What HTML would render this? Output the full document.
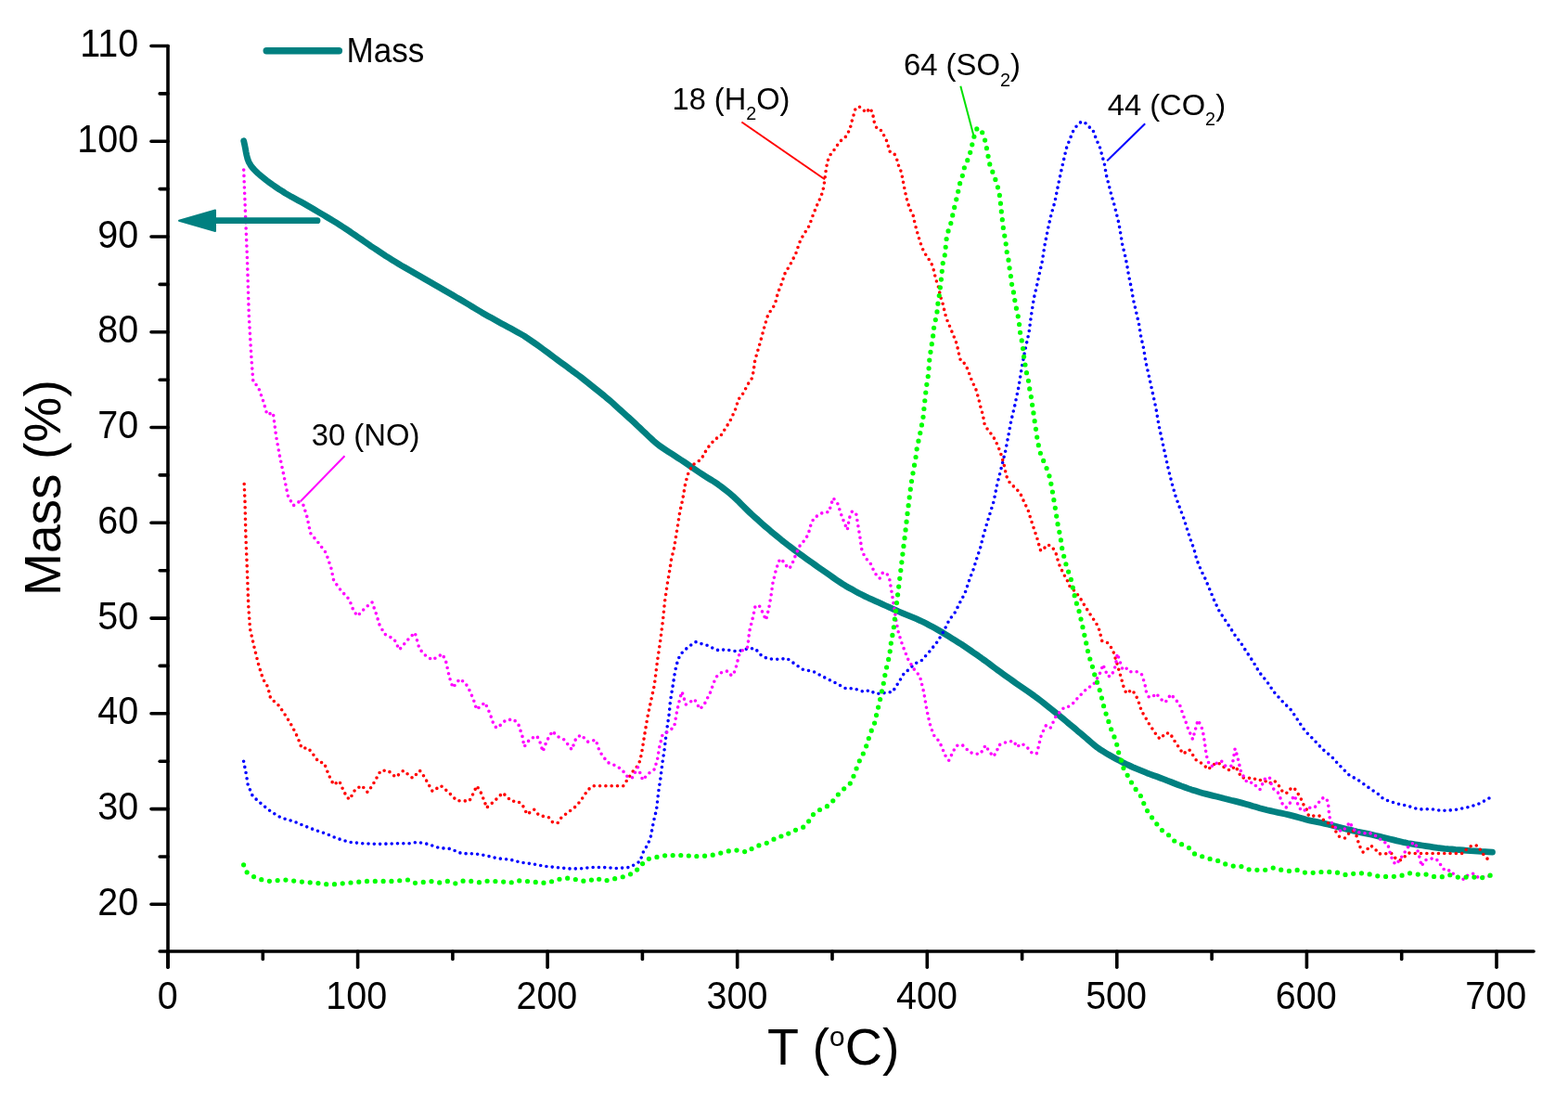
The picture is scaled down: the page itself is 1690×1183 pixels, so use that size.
<!DOCTYPE html>
<html><head><meta charset="utf-8"><style>
html,body{margin:0;padding:0;background:#fff;}
svg{display:block;font-family:"Liberation Sans",Arial,sans-serif;}
</style></head><body>
<svg width="1690" height="1183" viewBox="0 0 1690 1183">
<rect width="1690" height="1183" fill="#fff"/>
<polyline points="262.7,151.8 263.7,156.3 264.4,159.7 265.1,163.6 265.9,167.5 266.9,171.3 268.3,174.9 270.3,178.3 272.7,181.4 275.4,184.3 278.3,187.0 281.4,189.6 284.5,192.1 287.6,194.6 290.8,197.0 294.0,199.3 297.4,201.6 300.7,203.8 304.1,205.9 307.4,208.1 310.9,210.1 314.3,212.1 317.9,214.0 321.4,215.9 324.9,217.8 328.4,219.8 331.8,221.8 335.3,223.8 338.7,225.8 342.2,227.9 345.6,229.9 349.1,231.9 352.5,234.0 355.9,236.0 359.4,238.1 362.8,240.2 366.2,242.3 369.5,244.5 372.8,246.7 376.2,248.9 379.5,251.2 382.8,253.4 386.1,255.7 389.4,257.9 392.7,260.2 396.0,262.5 399.2,264.8 402.6,267.0 405.9,269.2 409.2,271.4 412.6,273.6 415.9,275.8 419.3,277.9 422.7,280.1 426.1,282.2 429.5,284.2 433.0,286.3 436.4,288.3 439.9,290.3 443.4,292.2 446.8,294.2 450.3,296.2 453.8,298.2 457.2,300.2 460.7,302.2 464.2,304.2 467.6,306.2 471.1,308.2 474.6,310.2 478.0,312.2 481.5,314.2 485.0,316.2 488.4,318.2 491.9,320.3 495.3,322.3 498.7,324.3 502.2,326.4 505.6,328.4 509.0,330.5 512.5,332.6 515.9,334.6 519.3,336.7 522.8,338.7 526.3,340.7 529.8,342.6 533.3,344.5 536.8,346.5 540.3,348.4 543.8,350.3 547.3,352.2 550.8,354.1 554.3,356.0 557.8,357.9 561.3,359.9 564.8,361.9 568.1,364.1 571.4,366.3 574.7,368.6 578.0,370.9 581.3,373.2 584.5,375.6 587.7,377.9 590.9,380.3 594.1,382.7 597.3,385.1 600.5,387.5 603.8,389.9 607.0,392.3 610.2,394.6 613.4,397.0 616.6,399.4 619.9,401.7 623.1,404.1 626.3,406.5 629.4,409.0 632.6,411.5 635.7,414.0 638.8,416.5 641.9,419.0 645.1,421.5 648.2,424.0 651.3,426.5 654.3,429.1 657.4,431.7 660.4,434.3 663.3,437.0 666.3,439.7 669.3,442.4 672.2,445.0 675.2,447.7 678.2,450.4 681.1,453.1 684.1,455.8 687.0,458.6 689.9,461.3 692.8,464.1 695.7,466.8 698.6,469.6 701.5,472.3 704.4,475.0 707.5,477.6 710.6,480.1 713.9,482.4 717.2,484.6 720.6,486.8 723.9,488.9 727.3,491.1 730.6,493.3 734.0,495.5 737.3,497.7 740.6,499.9 743.9,502.2 747.2,504.5 750.5,506.8 753.8,509.0 757.1,511.2 760.5,513.4 763.9,515.5 767.3,517.5 770.7,519.7 774.0,521.9 777.2,524.2 780.4,526.7 783.5,529.2 786.6,531.7 789.7,534.3 792.6,537.0 795.5,539.7 798.3,542.6 801.1,545.4 804.0,548.2 806.8,551.0 809.7,553.8 812.7,556.5 815.7,559.1 818.6,561.8 821.6,564.5 824.6,567.1 827.7,569.7 830.7,572.3 833.8,574.8 836.9,577.4 840.0,579.9 843.1,582.5 846.2,584.9 849.4,587.4 852.6,589.8 855.8,592.2 859.0,594.6 862.2,597.0 865.4,599.3 868.7,601.7 871.9,604.0 875.2,606.3 878.5,608.6 881.7,610.9 885.0,613.2 888.3,615.5 891.6,617.8 894.8,620.1 898.1,622.4 901.4,624.7 904.7,626.9 908.0,629.1 911.4,631.2 914.9,633.2 918.4,635.1 921.9,637.1 925.4,639.0 929.0,640.8 932.6,642.6 936.2,644.3 939.8,645.9 943.5,647.6 947.1,649.2 950.8,650.9 954.4,652.5 958.1,654.1 961.7,655.8 965.4,657.4 969.0,659.0 972.7,660.6 976.4,662.2 980.1,663.7 983.8,665.2 987.5,666.7 991.1,668.3 994.8,670.0 998.3,671.8 1001.8,673.7 1005.4,675.6 1008.9,677.5 1012.3,679.5 1015.8,681.5 1019.2,683.6 1022.6,685.7 1026.0,687.8 1029.4,689.9 1032.8,692.1 1036.2,694.2 1039.5,696.4 1042.8,698.6 1046.1,700.9 1049.4,703.2 1052.7,705.4 1056.0,707.7 1059.2,710.1 1062.5,712.4 1065.7,714.8 1068.9,717.2 1072.1,719.6 1075.3,722.0 1078.5,724.3 1081.8,726.7 1085.0,729.0 1088.3,731.3 1091.6,733.6 1094.8,735.9 1098.1,738.2 1101.4,740.5 1104.7,742.8 1108.0,745.0 1111.2,747.3 1114.5,749.6 1117.7,752.0 1120.9,754.4 1124.1,756.9 1127.2,759.4 1130.3,761.9 1133.5,764.4 1136.6,766.9 1139.7,769.4 1142.8,771.9 1145.9,774.4 1149.0,777.0 1152.0,779.6 1155.1,782.1 1158.2,784.7 1161.2,787.3 1164.3,789.8 1167.3,792.4 1170.4,795.0 1173.4,797.6 1176.4,800.2 1179.5,802.8 1182.6,805.3 1185.9,807.6 1189.2,809.7 1192.7,811.8 1196.1,813.8 1199.6,815.8 1203.1,817.7 1206.7,819.6 1210.2,821.4 1213.8,823.2 1217.4,824.9 1221.0,826.6 1224.7,828.2 1228.4,829.7 1232.1,831.2 1235.8,832.7 1239.5,834.1 1243.3,835.5 1247.1,836.8 1250.8,838.2 1254.6,839.6 1258.3,841.1 1262.0,842.5 1265.7,844.0 1269.5,845.5 1273.2,846.9 1277.0,848.2 1280.7,849.6 1284.5,850.9 1288.3,852.1 1292.1,853.3 1296.0,854.4 1299.8,855.4 1303.7,856.4 1307.6,857.4 1311.5,858.3 1315.4,859.3 1319.2,860.3 1323.1,861.2 1327.0,862.2 1330.9,863.1 1334.8,864.1 1338.6,865.1 1342.5,866.2 1346.3,867.3 1350.1,868.5 1354.0,869.6 1357.8,870.7 1361.7,871.7 1365.6,872.7 1369.5,873.6 1373.4,874.5 1377.3,875.4 1381.2,876.2 1385.1,877.0 1389.0,877.9 1392.9,878.9 1396.7,879.9 1400.6,881.0 1404.4,882.1 1408.3,883.2 1412.2,884.1 1416.1,884.9 1420.0,885.7 1423.9,886.5 1427.8,887.4 1431.7,888.3 1435.6,889.3 1439.5,890.3 1443.3,891.2 1447.2,892.2 1451.1,893.2 1455.0,894.1 1458.9,895.1 1462.8,896.0 1466.7,896.8 1470.6,897.6 1474.5,898.4 1478.4,899.3 1482.3,900.2 1486.2,901.1 1490.1,902.1 1494.0,903.0 1497.9,904.0 1501.7,904.9 1505.6,905.9 1509.5,906.8 1513.4,907.7 1517.3,908.5 1521.3,909.2 1525.2,909.8 1529.2,910.4 1533.1,911.0 1537.1,911.6 1541.0,912.2 1545.0,912.8 1549.0,913.4 1552.9,913.8 1556.9,914.3 1560.9,914.7 1564.9,915.0 1568.8,915.4 1572.8,915.7 1576.8,916.0 1580.8,916.3 1584.8,916.6 1588.8,916.8 1592.8,917.1 1596.8,917.4 1600.6,917.6 1604.1,917.8 1608.5,918.1" fill="none" stroke="#008080" stroke-width="6.8" stroke-linecap="round" stroke-linejoin="round"/>
<polyline points="262.6,820.2 265.2,833.3 267.2,845.5 272.3,857.7 282.5,866.8 292.6,874.9 302.8,881.0 317.0,885.1 329.1,890.2 339.3,894.2 351.5,898.3 363.6,903.4 376.8,907.4 392.0,908.8 408.3,909.4 426.5,908.8 440.7,908.8 449.9,907.4 461.0,909.4 473.2,913.5 485.4,914.5 497.6,919.6 511.1,919.7 523.8,921.8 536.5,924.9 549.2,926.0 561.8,929.2 574.5,930.9 587.2,933.4 599.9,934.5 612.5,935.9 625.2,935.9 637.9,934.5 650.6,934.5 665.4,935.5 678.0,934.5 684.4,931.3 689.7,928.1 693.9,916.5 698.1,910.2 701.3,901.7 704.5,884.8 707.6,872.1 709.7,853.1 711.8,839.4 714.0,821.4 716.1,807.7 718.2,789.7 721.3,768.6 722.4,755.9 725.6,736.2 727.6,723.0 730.7,710.8 733.7,704.7 738.8,699.7 743.9,695.6 749.9,691.6 756.0,693.6 763.1,695.6 769.2,698.7 775.3,701.1 781.4,699.7 787.4,700.7 793.5,701.7 799.6,700.7 806.6,698.7 813.9,698.7 821.3,707.1 828.7,709.9 841.4,710.3 847.8,709.2 854.1,713.5 864.7,721.1 877.3,723.8 887.9,729.5 900.6,735.8 912.2,742.2 919.6,741.6 931.2,745.4 937.5,743.7 942.8,747.0 950.2,747.5 955.5,745.8 961.8,745.8 968.2,735.8 974.5,725.3 980.9,720.4 985.1,715.6 993.5,711.4 1002.0,701.8 1010.4,691.3 1016.8,680.7 1023.1,668.0 1029.5,659.6 1034.7,649.0 1040.0,639.2 1045.8,621.7 1048.7,614.9 1052.6,602.2 1056.5,590.6 1059.4,578.9 1063.3,565.3 1067.2,552.6 1071.1,540.0 1074.5,522.8 1079.6,502.6 1083.6,486.3 1086.7,470.1 1089.7,453.9 1093.8,436.6 1097.8,417.4 1100.9,398.1 1104.9,376.8 1109.0,358.5 1111.5,339.4 1114.4,321.0 1117.4,308.3 1120.3,294.7 1123.2,282.1 1126.1,263.6 1130.0,244.2 1132.9,231.5 1136.8,217.9 1140.7,198.5 1143.6,184.9 1146.5,172.2 1149.4,159.6 1152.4,151.8 1156.2,142.1 1160.1,136.2 1165.0,131.4 1168.9,131.4 1172.8,136.2 1177.6,139.2 1181.5,149.9 1185.4,158.6 1188.3,169.3 1190.3,176.1 1192.2,187.8 1195.1,199.4 1198.1,211.1 1201.0,220.8 1203.9,232.5 1205.8,240.3 1207.8,251.9 1209.7,263.6 1212.6,275.3 1214.6,285.0 1216.5,296.7 1219.4,310.3 1221.5,323.0 1224.6,336.2 1227.6,349.4 1229.7,362.6 1232.7,375.8 1234.7,389.0 1238.8,407.2 1242.8,425.5 1245.9,439.7 1248.9,457.9 1252.0,472.1 1256.0,490.4 1259.1,504.6 1263.1,520.8 1267.2,535.0 1271.4,546.8 1276.2,559.4 1280.1,572.1 1284.0,583.7 1286.9,591.5 1289.9,603.2 1294.7,614.9 1298.6,622.6 1303.5,634.3 1308.3,646.0 1314.2,658.6 1320.0,667.4 1327.4,678.6 1332.1,686.0 1336.7,691.6 1343.2,701.8 1350.7,713.0 1357.2,724.2 1365.6,734.4 1373.0,745.5 1382.3,755.8 1391.6,765.1 1399.0,776.2 1406.5,787.4 1415.8,796.7 1425.1,806.9 1435.3,815.3 1443.7,824.6 1453.9,834.8 1465.1,841.3 1476.2,849.3 1486.4,856.2 1491.1,860.9 1504.1,865.5 1517.1,868.3 1529.2,872.0 1541.3,871.6 1554.3,873.5 1567.4,872.6 1580.4,870.2 1592.4,866.8 1603.6,860.9 1607.0,858.6" fill="none" stroke="#0000ff" stroke-width="3.6" stroke-linecap="round" stroke-linejoin="round" stroke-dasharray="0 6.3"/>
<polyline points="263.2,521.5 264.0,540.0 264.9,577.2 266.4,614.4 267.7,651.6 269.5,677.6 274.2,698.1 278.8,716.7 283.5,731.6 288.6,740.0 291.6,752.2 300.7,760.3 308.8,772.5 314.9,782.6 321.0,794.8 325.1,806.0 332.2,806.0 339.3,815.1 343.3,820.8 349.4,822.2 354.5,835.4 359.6,845.5 365.7,841.5 369.7,850.6 373.8,858.7 376.8,861.3 382.9,850.6 390.0,846.5 396.1,853.6 401.2,846.5 410.3,830.3 418.4,830.3 426.5,837.4 434.7,830.3 444.8,838.4 452.5,830.3 457.0,836.4 466.1,852.6 475.2,846.5 483.4,853.6 492.5,862.8 500.0,862.8 505.8,863.2 511.1,853.1 513.7,846.8 517.5,852.0 522.7,864.7 524.2,870.4 532.3,863.7 541.8,854.2 551.3,863.2 557.6,863.2 562.9,866.8 568.2,877.4 575.6,872.1 580.9,878.5 591.4,880.6 595.6,885.9 600.9,886.9 605.2,880.6 613.6,874.2 618.9,870.4 625.2,863.7 633.7,851.0 639.0,846.8 648.5,846.8 665.4,846.8 671.7,846.8 675.9,840.4 682.3,830.9 688.6,823.5 691.5,812.0 695.0,790.0 698.0,772.0 701.0,758.0 705.3,738.2 708.4,712.9 711.4,692.6 714.5,668.3 716.5,648.0 719.5,627.7 721.6,615.5 723.6,602.4 726.6,590.2 728.7,577.0 730.7,564.9 732.7,551.7 735.7,538.5 738.8,520.3 741.8,510.1 746.3,501.1 755.8,494.8 762.2,483.2 770.8,473.0 776.4,470.2 782.7,460.2 787.1,453.1 792.4,441.6 796.0,430.1 800.4,424.7 806.6,413.2 810.2,407.9 812.0,400.8 813.7,388.3 815.5,382.1 819.1,369.7 820.8,363.5 824.4,350.2 827.9,338.6 832.4,332.4 835.4,327.5 838.3,315.8 842.2,306.1 846.1,294.4 851.9,284.7 857.8,273.1 861.7,261.4 865.6,253.6 869.4,247.8 872.4,242.9 875.3,234.2 879.2,224.4 882.1,217.6 885.0,211.8 887.9,201.1 888.9,193.3 889.9,185.6 891.8,173.9 894.7,167.1 898.6,162.2 902.5,156.4 906.4,151.5 912.2,146.7 916.1,138.9 918.0,131.1 921.9,117.5 925.8,114.6 930.7,118.5 933.6,121.4 937.5,116.5 940.4,121.4 942.4,132.1 945.3,138.9 950.1,140.8 953.1,146.7 956.0,152.5 958.9,163.2 963.7,165.1 966.7,171.9 968.6,178.7 971.5,185.6 973.5,196.2 975.4,206.0 977.4,214.7 980.3,224.4 984.2,232.2 986.1,241.0 989.0,251.7 991.9,261.4 994.9,269.2 998.7,276.0 1003.6,282.8 1006.5,291.5 1008.5,300.3 1011.4,309.0 1013.3,317.8 1015.2,325.0 1016.1,327.1 1018.8,338.6 1021.4,346.6 1024.1,352.8 1028.5,363.5 1031.2,370.6 1033.9,383.0 1035.6,389.2 1040.1,391.9 1043.0,398.1 1047.1,409.2 1052.2,420.4 1054.2,427.5 1057.2,439.7 1059.3,446.8 1061.3,457.9 1065.4,464.0 1070.4,470.1 1075.5,480.2 1079.6,491.4 1082.6,502.6 1084.6,512.7 1088.7,520.8 1094.8,525.9 1099.8,532.0 1103.9,541.1 1108.1,549.7 1111.0,559.4 1113.9,568.2 1117.8,579.9 1119.7,586.7 1121.7,593.5 1124.6,591.5 1129.4,586.7 1134.3,589.6 1138.2,596.4 1141.1,607.1 1146.0,617.8 1149.9,624.6 1152.8,631.4 1158.6,637.2 1163.5,643.1 1167.4,649.9 1174.2,660.6 1178.1,666.4 1181.9,672.2 1184.9,679.0 1187.8,690.7 1193.6,692.6 1197.5,697.5 1200.4,703.3 1202.4,710.1 1204.3,716.0 1206.2,722.8 1208.2,729.6 1211.1,740.3 1214.0,747.1 1219.9,743.2 1223.7,748.1 1226.7,754.6 1228.8,761.2 1230.6,766.7 1234.3,772.3 1237.1,777.9 1240.9,783.5 1244.6,789.1 1248.3,794.6 1251.1,796.1 1255.7,790.0 1261.3,790.0 1264.1,795.6 1267.8,801.1 1271.5,806.7 1275.3,812.3 1279.0,809.5 1281.8,807.7 1285.5,813.2 1289.2,818.8 1293.9,821.6 1298.5,825.3 1302.2,829.0 1305.9,825.3 1311.5,821.6 1316.2,823.5 1320.8,828.1 1326.5,830.2 1331.2,825.5 1334.9,831.1 1337.7,837.6 1343.2,838.5 1350.7,838.2 1355.5,840.9 1361.7,840.0 1367.9,844.4 1373.3,840.9 1375.9,843.6 1379.5,848.0 1383.0,854.2 1388.3,854.2 1391.9,848.5 1395.4,849.8 1399.0,855.1 1402.5,861.3 1405.2,867.5 1408.8,872.8 1410.5,879.1 1416.7,879.1 1423.0,879.1 1426.5,883.5 1431.8,887.0 1436.3,890.6 1439.8,895.9 1443.4,901.2 1449.6,903.0 1453.1,898.6 1458.5,895.0 1462.0,900.4 1463.8,906.6 1465.6,911.9 1469.1,918.1 1472.7,916.3 1477.1,911.0 1481.5,913.7 1486.0,919.9 1493.1,919.9 1499.3,919.0 1503.7,924.3 1508.9,927.0 1513.5,923.4 1517.9,919.0 1524.2,919.5 1531.3,919.5 1537.5,919.5 1544.6,919.5 1550.8,919.5 1557.9,919.5 1564.1,919.5 1570.3,919.5 1576.5,919.5 1581.0,914.6 1586.3,911.0 1592.5,911.0 1596.0,916.3 1599.6,921.7 1604.9,927.0" fill="none" stroke="#ff0000" stroke-width="3.6" stroke-linecap="round" stroke-linejoin="round" stroke-dasharray="0 6.3"/>
<polyline points="262.7,183.1 264.5,230.0 266.5,280.0 268.3,340.0 269.4,359.2 271.0,386.4 272.9,411.6 278.2,416.5 284.0,433.0 287.9,446.6 294.3,444.7 297.6,470.0 301.5,491.4 306.4,514.7 310.3,534.1 316.1,544.8 321.9,540.9 326.8,543.8 330.9,556.7 334.6,574.4 343.0,584.6 351.4,595.8 357.0,612.5 359.7,625.6 367.2,635.8 376.5,646.0 381.1,658.1 385.4,663.7 393.2,655.3 401.0,648.8 405.3,660.9 409.0,673.0 414.6,683.2 424.9,688.8 430.4,700.0 441.6,687.0 447.2,681.7 451.8,698.1 456.5,704.6 465.8,711.1 476.9,704.6 480.7,713.0 484.4,729.7 488.1,740.9 495.5,731.6 501.6,735.8 506.9,745.4 511.1,755.9 513.7,764.4 517.5,761.2 522.7,757.0 528.0,768.6 532.3,781.3 535.4,784.4 540.7,780.2 544.9,776.0 553.4,774.9 558.7,780.2 562.9,792.9 565.0,804.5 571.3,796.1 578.7,792.9 581.9,799.2 585.1,809.8 589.3,798.2 595.6,787.6 599.9,792.9 608.3,797.1 616.3,807.7 621.0,795.0 626.3,791.8 633.7,799.2 642.1,797.1 646.3,809.8 654.8,821.4 665.4,825.6 671.7,830.9 674.9,835.8 681.2,838.3 687.5,826.7 692.8,840.4 698.1,834.1 705.5,828.8 708.7,817.2 710.8,804.5 714.0,791.8 719.2,788.7 726.6,783.4 729.8,765.4 733.0,751.7 735.1,745.4 739.3,759.1 748.5,753.4 754.4,764.0 759.0,759.1 765.4,746.4 769.6,734.8 772.2,729.1 778.3,724.0 784.4,723.0 788.5,728.1 791.5,724.0 793.5,717.9 796.6,705.8 800.2,700.8 805.5,697.6 806.6,690.2 807.6,680.7 809.7,672.3 811.8,663.8 814.0,653.3 818.2,652.2 821.3,658.5 825.6,668.0 828.7,655.4 830.9,642.7 833.0,627.9 836.1,615.2 839.3,604.7 842.5,602.1 845.6,607.8 850.9,612.7 854.1,606.8 858.3,596.2 861.5,588.8 866.8,582.5 871.0,576.1 874.2,564.5 877.3,558.2 883.7,553.9 887.9,551.8 893.2,551.8 895.3,545.5 898.0,536.6 902.7,542.3 906.9,555.0 910.1,563.5 913.3,570.9 915.4,558.2 918.5,550.8 922.8,553.9 924.9,566.6 927.0,579.3 929.1,594.1 933.3,601.5 938.6,607.8 942.8,617.3 948.1,623.2 951.3,617.3 955.5,617.3 958.7,623.7 960.8,636.3 962.9,649.0 966.1,670.2 968.2,680.7 971.4,691.3 974.5,699.7 978.7,710.3 985.1,720.9 991.4,728.5 995.6,745.4 998.8,764.4 1002.0,779.2 1006.2,791.8 1012.6,799.2 1018.9,814.0 1022.7,819.3 1027.3,809.8 1030.5,803.5 1036.8,802.4 1040.0,804.9 1044.6,810.4 1051.2,812.3 1056.7,812.3 1060.5,805.8 1062.3,803.0 1066.0,809.5 1070.7,815.1 1074.4,809.5 1076.3,803.0 1082.8,800.2 1088.4,798.7 1093.0,798.7 1095.8,804.9 1101.4,801.1 1107.0,804.9 1110.7,810.4 1117.2,812.3 1119.0,805.8 1121.8,793.7 1124.6,787.2 1127.4,781.6 1132.1,784.4 1134.8,778.8 1138.6,770.5 1143.2,766.7 1146.9,762.1 1151.6,761.2 1155.7,758.7 1162.5,751.0 1167.4,746.1 1172.2,741.2 1178.1,738.3 1183.9,728.6 1186.8,722.8 1188.7,716.0 1191.7,722.8 1193.6,728.6 1197.5,728.6 1200.4,722.8 1202.4,716.9 1204.3,704.3 1206.2,710.1 1210.1,721.8 1215.0,719.9 1218.9,723.7 1225.7,723.7 1230.5,726.7 1232.5,732.5 1234.4,739.3 1235.4,745.1 1238.3,751.0 1242.2,751.0 1246.1,747.1 1250.0,751.9 1254.9,756.8 1257.8,754.9 1261.7,748.1 1266.5,752.9 1271.5,759.3 1275.3,770.5 1278.1,777.9 1279.9,783.5 1282.7,790.0 1285.5,796.5 1288.3,786.3 1291.1,776.0 1294.8,782.5 1296.6,789.1 1298.5,800.2 1299.4,807.7 1300.4,814.2 1302.2,820.7 1304.1,825.3 1308.7,825.3 1312.5,820.7 1317.1,820.3 1320.8,825.3 1327.3,825.3 1329.2,818.8 1331.1,806.7 1332.9,812.3 1334.8,819.7 1337.6,831.8 1344.2,843.2 1350.7,843.2 1355.3,848.8 1358.1,850.6 1360.9,844.1 1363.7,838.5 1368.4,837.6 1370.2,845.0 1373.0,850.6 1377.7,854.3 1380.4,860.9 1382.3,866.4 1386.0,870.2 1389.7,866.4 1392.5,860.9 1395.3,857.1 1397.2,862.7 1400.0,869.2 1402.8,873.9 1406.5,872.9 1411.1,870.2 1416.7,870.2 1421.4,864.6 1425.1,859.9 1429.7,859.9 1431.6,866.4 1432.7,879.1 1434.5,885.3 1438.1,890.6 1442.5,894.1 1446.9,895.9 1451.4,890.6 1454.9,885.8 1457.6,891.5 1462.0,896.8 1468.2,896.8 1473.6,898.6 1478.0,897.7 1485.1,902.1 1490.4,906.6 1495.7,909.2 1497.5,916.3 1499.3,922.5 1502.0,928.8 1504.6,931.4 1508.2,927.0 1511.7,921.7 1515.3,916.3 1518.8,911.0 1524.2,907.5 1526.8,911.9 1528.6,919.0 1530.4,925.2 1532.1,933.2 1535.7,927.0 1541.0,925.2 1546.3,924.9 1550.8,927.9 1554.3,935.0 1558.8,938.5 1563.2,937.6 1567.7,943.0 1572.1,944.7 1577.4,947.4 1581.9,943.0 1588.1,941.2 1593.4,945.6 1599.6,944.7 1605.8,943.9" fill="none" stroke="#ff00ff" stroke-width="3.6" stroke-linecap="round" stroke-linejoin="round" stroke-dasharray="0 6.3"/>
<polyline points="262.6,931.8 266.2,939.9 273.3,944.5 280.4,947.4 289.6,949.4 306.8,948.0 325.1,950.0 341.3,951.4 351.5,952.7 360.6,952.7 377.8,951.0 396.1,949.4 422.5,949.4 439.7,948.0 446.8,951.4 465.1,949.6 473.2,951.0 482.3,949.4 491.5,952.0 498.5,949.2 506.9,949.2 515.4,950.9 523.8,949.2 540.7,949.7 549.2,951.4 557.6,948.8 574.5,949.9 583.0,951.4 591.4,950.9 599.9,947.8 609.4,946.1 616.8,946.5 626.3,949.2 634.7,949.2 642.1,946.1 651.6,949.2 660.1,947.1 668.5,945.6 677.0,942.9 684.4,939.7 689.7,933.4 697.1,926.0 704.5,923.9 712.9,922.8 721.3,920.7 728.8,922.4 738.3,920.7 746.3,923.3 754.8,921.8 763.2,922.4 771.7,920.3 780.1,918.2 788.6,916.1 796.0,916.1 805.5,918.2 812.9,912.3 822.4,909.7 829.8,907.0 838.2,901.3 846.7,900.6 853.0,895.4 860.4,893.7 866.8,890.7 873.1,883.1 877.3,876.3 885.8,871.1 893.2,867.9 898.5,862.0 903.7,855.6 911.1,848.5 917.5,843.0 920.6,834.5 923.8,826.1 927.0,818.2 931.2,810.4 934.4,802.0 936.9,793.5 940.3,784.4 943.9,776.0 944.9,767.5 947.5,759.1 949.2,750.6 951.3,741.1 953.0,732.7 954.4,724.0 958.7,706.1 960.8,689.2 962.9,679.7 965.0,661.7 967.1,644.8 969.2,627.9 971.4,609.9 973.5,592.0 975.6,575.1 977.7,556.1 979.8,539.2 981.9,522.3 985.1,503.2 986.8,494.9 987.7,486.0 989.5,477.1 991.3,469.1 993.0,460.2 994.8,451.4 995.7,442.5 996.6,433.6 997.5,425.6 998.4,416.8 1000.1,407.0 1001.0,398.1 1001.6,389.2 1002.8,380.4 1004.0,372.4 1005.5,363.5 1006.3,354.6 1008.1,345.7 1009.9,336.9 1010.8,328.0 1012.4,317.8 1014.3,302.2 1015.3,292.5 1016.2,283.7 1018.2,275.0 1019.2,266.2 1020.1,257.5 1022.1,248.7 1025.0,240.0 1026.9,231.2 1028.9,222.5 1030.8,214.7 1032.8,206.0 1034.7,197.2 1037.6,188.5 1039.6,179.7 1043.5,171.0 1046.4,162.2 1048.3,153.5 1050.3,145.7 1053.2,137.9 1058.0,140.8 1061.5,150.6 1063.5,160.0 1064.9,167.4 1066.8,177.1 1069.7,184.9 1072.6,192.6 1075.6,202.4 1077.5,211.1 1078.5,219.9 1079.4,228.6 1080.4,237.4 1081.4,246.1 1082.9,254.9 1084.3,263.6 1085.3,272.4 1087.2,281.1 1088.2,289.9 1089.6,298.6 1090.7,307.4 1092.7,316.1 1094.0,324.9 1095.8,334.2 1097.8,343.3 1098.8,351.4 1099.8,360.6 1101.9,369.7 1103.9,386.9 1106.9,404.2 1109.0,412.3 1110.0,421.4 1112.0,430.5 1113.0,439.7 1114.6,448.8 1115.5,456.9 1117.1,466.0 1118.1,474.2 1120.1,483.3 1122.2,491.4 1126.2,499.5 1129.2,507.6 1132.3,516.8 1133.3,524.9 1135.3,534.0 1136.3,542.1 1138.2,551.7 1139.2,560.4 1141.1,570.1 1143.1,578.9 1144.0,587.6 1146.0,596.4 1147.9,604.2 1150.4,612.9 1153.7,621.7 1155.7,630.4 1157.6,639.2 1159.6,647.9 1162.5,656.3 1164.4,664.4 1166.4,673.2 1168.3,681.9 1170.3,690.7 1172.2,700.4 1174.2,708.2 1177.1,716.9 1179.0,724.7 1181.9,733.5 1184.9,742.2 1187.2,751.0 1189.3,759.7 1191.6,767.7 1194.4,776.0 1197.1,784.4 1200.9,793.7 1203.7,802.1 1205.5,810.4 1208.3,818.8 1210.2,826.2 1214.8,834.6 1219.5,843.0 1224.1,850.4 1229.7,857.9 1233.4,867.2 1237.1,874.6 1241.8,881.1 1247.4,888.6 1252.9,895.1 1260.4,900.3 1266.9,907.2 1275.3,910.3 1281.8,913.7 1288.3,920.7 1296.6,923.0 1305.0,925.7 1313.4,927.6 1321.8,931.4 1329.8,933.2 1336.9,933.2 1345.7,936.8 1354.6,937.3 1363.5,937.3 1372.4,935.0 1381.2,937.3 1390.1,938.5 1399.0,937.3 1407.0,940.3 1415.9,940.3 1424.7,939.4 1433.6,939.4 1442.5,940.3 1450.5,942.6 1459.4,941.2 1468.2,940.8 1477.1,942.1 1485.1,943.9 1493.1,944.4 1502.0,944.4 1510.8,943.3 1519.7,940.8 1528.6,942.1 1537.5,942.1 1545.5,944.4 1554.3,944.7 1562.3,942.6 1571.2,945.1 1580.1,945.1 1589.0,945.1 1597.8,945.6 1606.7,943.0" fill="none" stroke="#00ff00" stroke-width="5.2" stroke-linecap="round" stroke-linejoin="round" stroke-dasharray="0 8.8"/>
<g stroke="#000" stroke-width="3.6" stroke-linecap="round" fill="none"><line x1="181.0" y1="49.5" x2="181.0" y2="1042.1" /><line x1="181.0" y1="1025.0" x2="1653" y2="1025.0" /><line x1="172.2" y1="1025.0" x2="181.0" y2="1025.0" /><line x1="163.0" y1="974.3" x2="181.0" y2="974.3" /><line x1="172.2" y1="923.0" x2="181.0" y2="923.0" /><line x1="163.0" y1="871.6" x2="181.0" y2="871.6" /><line x1="172.2" y1="820.2" x2="181.0" y2="820.2" /><line x1="163.0" y1="768.8" x2="181.0" y2="768.8" /><line x1="172.2" y1="717.4" x2="181.0" y2="717.4" /><line x1="163.0" y1="666.1" x2="181.0" y2="666.1" /><line x1="172.2" y1="614.7" x2="181.0" y2="614.7" /><line x1="163.0" y1="563.3" x2="181.0" y2="563.3" /><line x1="172.2" y1="511.9" x2="181.0" y2="511.9" /><line x1="163.0" y1="460.5" x2="181.0" y2="460.5" /><line x1="172.2" y1="409.2" x2="181.0" y2="409.2" /><line x1="163.0" y1="357.8" x2="181.0" y2="357.8" /><line x1="172.2" y1="306.4" x2="181.0" y2="306.4" /><line x1="163.0" y1="255.0" x2="181.0" y2="255.0" /><line x1="172.2" y1="203.6" x2="181.0" y2="203.6" /><line x1="163.0" y1="152.3" x2="181.0" y2="152.3" /><line x1="172.2" y1="100.9" x2="181.0" y2="100.9" /><line x1="163.0" y1="49.5" x2="181.0" y2="49.5" /><line x1="181.0" y1="1025.0" x2="181.0" y2="1042.2" /><line x1="283.3" y1="1025.0" x2="283.3" y2="1033.5" /><line x1="385.6" y1="1025.0" x2="385.6" y2="1042.2" /><line x1="487.9" y1="1025.0" x2="487.9" y2="1033.5" /><line x1="590.1" y1="1025.0" x2="590.1" y2="1042.2" /><line x1="692.4" y1="1025.0" x2="692.4" y2="1033.5" /><line x1="794.7" y1="1025.0" x2="794.7" y2="1042.2" /><line x1="897.0" y1="1025.0" x2="897.0" y2="1033.5" /><line x1="999.3" y1="1025.0" x2="999.3" y2="1042.2" /><line x1="1101.6" y1="1025.0" x2="1101.6" y2="1033.5" /><line x1="1203.8" y1="1025.0" x2="1203.8" y2="1042.2" /><line x1="1306.1" y1="1025.0" x2="1306.1" y2="1033.5" /><line x1="1408.4" y1="1025.0" x2="1408.4" y2="1042.2" /><line x1="1510.7" y1="1025.0" x2="1510.7" y2="1033.5" /><line x1="1613.0" y1="1025.0" x2="1613.0" y2="1042.2" /></g><g fill="#000"><text transform="matrix(1.0000 0 0 1.0600 105.30 985.95)" font-size="39.5">20</text><text transform="matrix(1.0000 0 0 1.0600 105.30 883.19)" font-size="39.5">30</text><text transform="matrix(1.0000 0 0 1.0600 105.30 780.43)" font-size="39.5">40</text><text transform="matrix(1.0000 0 0 1.0600 105.30 677.67)" font-size="39.5">50</text><text transform="matrix(1.0000 0 0 1.0600 105.30 574.91)" font-size="39.5">60</text><text transform="matrix(1.0000 0 0 1.0600 105.30 472.15)" font-size="39.5">70</text><text transform="matrix(1.0000 0 0 1.0600 105.30 369.39)" font-size="39.5">80</text><text transform="matrix(1.0000 0 0 1.0600 105.30 266.63)" font-size="39.5">90</text><text transform="matrix(1.0000 0 0 1.0600 83.30 163.87)" font-size="39.5">100</text><text transform="matrix(1.0000 0 0 1.0600 86.30 61.11)" font-size="39.5">110</text><text transform="matrix(1.0000 0 0 1.0700 169.80 1086.64)" font-size="39.5">0</text><text transform="matrix(1.0000 0 0 1.0700 351.37 1086.64)" font-size="39.5">100</text><text transform="matrix(1.0000 0 0 1.0700 556.44 1086.64)" font-size="39.5">200</text><text transform="matrix(1.0000 0 0 1.0700 761.51 1086.64)" font-size="39.5">300</text><text transform="matrix(1.0000 0 0 1.0700 966.08 1086.64)" font-size="39.5">400</text><text transform="matrix(1.0000 0 0 1.0700 1170.15 1086.64)" font-size="39.5">500</text><text transform="matrix(1.0000 0 0 1.0700 1374.72 1086.64)" font-size="39.5">600</text><text transform="matrix(1.0000 0 0 1.0700 1579.29 1086.64)" font-size="39.5">700</text><text transform="matrix(1.0325 0 0 1.0870 373.40 67.00)" font-size="34">Mass</text><text transform="matrix(0.9942 0 0 0.9788 827.11 1146.95)" font-size="56">T (<tspan font-size="30" dy="-20">o</tspan><tspan dy="20">C)</tspan></text><text transform="matrix(0.9872 0 0 0.9889 724.53 117.93)" font-size="33">18 (H<tspan font-size="20" dy="11.5">2</tspan><tspan dy="-11.5">O)</tspan></text><text transform="matrix(0.9960 0 0 0.9889 973.90 81.23)" font-size="33">64 (SO<tspan font-size="20" dy="11.5">2</tspan><tspan dy="-11.5">)</tspan></text><text transform="matrix(0.9913 0 0 0.9778 1193.70 123.87)" font-size="33">44 (CO<tspan font-size="20" dy="11.5">2</tspan><tspan dy="-11.5">)</tspan></text><text transform="matrix(0.9947 0 0 0.9968 335.71 479.72)" font-size="33">30 (NO)</text><text transform="matrix(0 -0.9847 0.9827 0 65.31 642.04)" font-size="56">Mass (%)</text></g><line x1="287.2" y1="54.8" x2="365.4" y2="54.8" stroke="#008080" stroke-width="7.4" stroke-linecap="round"/><line x1="228" y1="237.7" x2="342" y2="237.7" stroke="#008080" stroke-width="6.8" stroke-linecap="round"/><path d="M193,237.7 L232,226.5 L232,249 Z" fill="#008080" stroke="#008080" stroke-width="2" stroke-linejoin="round"/><line x1="799.4" y1="131.5" x2="889" y2="193.3" stroke="#ff0000" stroke-width="2"/><line x1="1035.3" y1="92.7" x2="1049.3" y2="145.7" stroke="#00e000" stroke-width="2"/><line x1="1234.2" y1="133.3" x2="1193.2" y2="173.2" stroke="#0000ff" stroke-width="2"/><line x1="371.5" y1="491.2" x2="323.8" y2="540.3" stroke="#ff00ff" stroke-width="2"/>
</svg>
</body></html>
